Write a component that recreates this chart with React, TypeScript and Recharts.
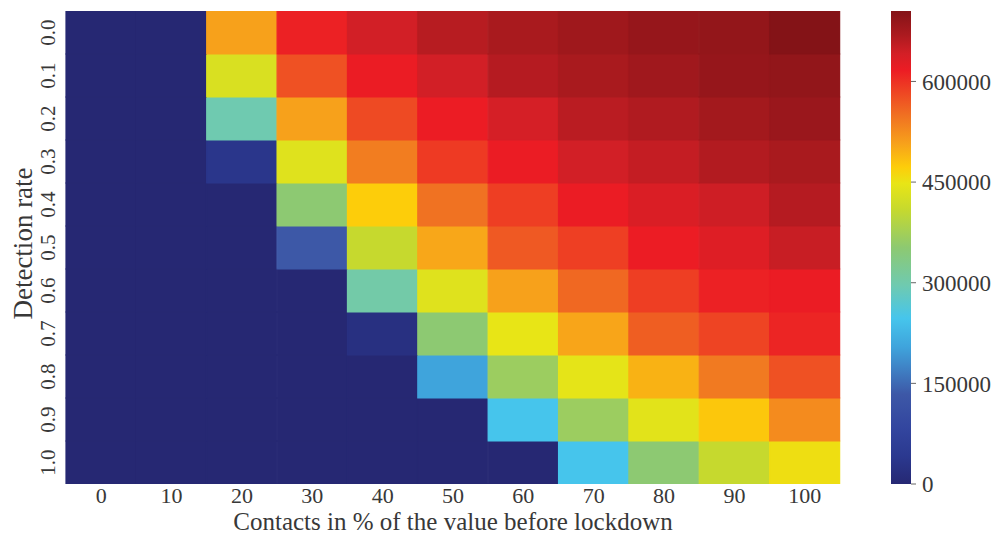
import React from 'react';
import { BarChart, Bar, XAxis, YAxis, Cell, Label } from 'recharts';

const contactLabels = ['0', '10', '20', '30', '40', '50', '60', '70', '80', '90', '100'];
const detectionLabels = ['0.0', '0.1', '0.2', '0.3', '0.4', '0.5', '0.6', '0.7', '0.8', '0.9', '1.0'];

// values per detection-rate row (top 0.0 -> bottom 1.0), columns = contacts 0..100
const row00 = [0, 0, 508000, 613000, 642000, 661000, 672000, 681000, 689000, 691000, 705000];
const row01 = [0, 0, 430000, 575000, 618000, 642000, 663000, 672000, 680000, 689000, 692000];
const row02 = [0, 0, 296000, 508000, 580000, 617000, 640000, 659000, 666000, 677000, 685000];
const row03 = [0, 0, 35000, 437000, 539000, 593000, 618000, 642000, 652000, 665000, 672000];
const row04 = [0, 0, 0, 352000, 472000, 548000, 590000, 618000, 635000, 645000, 663000];
const row05 = [0, 0, 0, 134000, 409000, 503000, 568000, 589000, 617000, 631000, 649000];
const row06 = [0, 0, 0, 0, 303000, 437000, 508000, 556000, 590000, 613000, 618000];
const row07 = [0, 0, 0, 0, 21000, 352000, 448000, 504000, 564000, 585000, 610000];
const row08 = [0, 0, 0, 0, 0, 204000, 367000, 444000, 494000, 541000, 575000];
const row09 = [0, 0, 0, 0, 0, 0, 247000, 367000, 441000, 477000, 527000];
const row10 = [0, 0, 0, 0, 0, 0, 0, 247000, 352000, 409000, 455000];
const rows = [row00, row01, row02, row03, row04, row05, row06, row07, row08, row09, row10];

const colorbarTicks = [0, 150000, 300000, 450000, 600000];
const vmax = 705000;

const xTitle = 'Contacts in % of the value before lockdown';
const yTitle = 'Detection rate';

// colour map (jet as it appears in the figure)
const stops: [number, string][] = [
  [0.0, '#262873'],
  [0.06, '#2b3990'],
  [0.12, '#33469f'],
  [0.19, '#3d58a7'],
  [0.25, '#3f86c8'],
  [0.29, '#3fa4dc'],
  [0.35, '#46c5ec'],
  [0.42, '#6fcab0'],
  [0.5, '#8dc971'],
  [0.58, '#c6d92e'],
  [0.635, '#e8e516'],
  [0.67, '#fdcd0a'],
  [0.72, '#f7a11b'],
  [0.78, '#f07022'],
  [0.83, '#ee4423'],
  [0.875, '#ec1c24'],
  [0.91, '#d31f26'],
  [0.95, '#ab1a1f'],
  [1.0, '#841317'],
];

const hexToRgb = (h: string) => [
  parseInt(h.slice(1, 3), 16),
  parseInt(h.slice(3, 5), 16),
  parseInt(h.slice(5, 7), 16),
];

const colorFor = (v: number) => {
  const t = Math.max(0, Math.min(1, v / vmax));
  for (let i = 1; i < stops.length; i++) {
    if (t <= stops[i][0]) {
      const [t0, c0] = stops[i - 1];
      const [t1, c1] = stops[i];
      const f = (t - t0) / (t1 - t0);
      const a = hexToRgb(c0);
      const b = hexToRgb(c1);
      const m = a.map((x, k) => Math.round(x + (b[k] - x) * f));
      return `rgb(${m[0]},${m[1]},${m[2]})`;
    }
  }
  return stops[stops.length - 1][1];
};

const FONT = 'Liberation Serif';
const TEXT = '#383838';

const data = contactLabels.map((c) => {
  const o: Record<string, any> = { contact: c };
  rows.forEach((_, i) => {
    o['r' + i] = 1;
  });
  return o;
});

const yTicks = detectionLabels.map((_, i) => detectionLabels.length - i - 0.5);

const YTick = (props: any) => {
  const { x, y, payload } = props;
  const idx = Math.round(detectionLabels.length - payload.value - 0.5);
  const bx = x - 3;
  return (
    <text
      x={bx}
      y={y}
      transform={`rotate(-90, ${bx}, ${y})`}
      textAnchor="middle"
      fontSize={21}
      fontFamily={FONT}
      fill={TEXT}
    >
      {detectionLabels[idx]}
    </text>
  );
};

const YTitle = (props: any) => {
  const vb = props.viewBox;
  const x = vb.x + 32;
  const y = vb.y + vb.height / 2 - 4;
  return (
    <text x={x} y={y} transform={`rotate(-90, ${x}, ${y})`} textAnchor="middle" fontSize={27} fontFamily={FONT} fill={TEXT}>
      {yTitle}
    </text>
  );
};

const XTitle = (props: any) => {
  const vb = props.viewBox;
  return (
    <text x={vb.x + vb.width / 2} y={vb.y + vb.height - 6} textAnchor="middle" fontSize={25} fontFamily={FONT} fill={TEXT}>
      {xTitle}
    </text>
  );
};

const rowOrder = rows.map((_, i) => rows.length - 1 - i); // bottom row first in the stack

export default function App() {
  return (
    <div style={{ position: 'absolute', left: 0, top: 0, width: 1007, height: 536, background: '#fff' }}>
      <div style={{ position: 'absolute', left: 0, top: 0 }}>
        <BarChart
          width={1007}
          height={536}
          data={data}
          margin={{ top: 11, right: 167, bottom: 0, left: 0 }}
          barCategoryGap={0}
          barGap={0}
        >
          <XAxis
            dataKey="contact"
            type="category"
            height={52}
            axisLine={false}
            tickLine={false}
            tickSize={2}
            tickMargin={1}
            interval={0}
            tick={{ fontSize: 22, fontFamily: FONT, fill: TEXT }}
          >
            <Label content={XTitle} />
          </XAxis>
          <YAxis
            type="number"
            domain={[0, rows.length]}
            ticks={yTicks}
            interval={0}
            width={66}
            axisLine={false}
            tickLine={false}
            tick={YTick}
            allowDataOverflow
          >
            <Label content={YTitle} />
          </YAxis>
          {rowOrder.map((i) => (
            <Bar key={i} dataKey={'r' + i} stackId="cells" isAnimationActive={false}>
              {rows[i].map((v, j) => (
                <Cell key={j} fill={colorFor(v)} stroke={colorFor(v)} strokeWidth={1.2} />
              ))}
            </Bar>
          ))}
        </BarChart>
      </div>
      <div style={{ position: 'absolute', left: 880, top: 0 }}>
        <BarChart
          width={127}
          height={536}
          data={[{ k: 'cb', v: vmax }]}
          margin={{ top: 11, right: 0, bottom: 52, left: 11 }}
          barCategoryGap={0}
          barGap={0}
        >
          <defs>
            <linearGradient id="cbGrad" x1="0" y1="1" x2="0" y2="0">
              {stops.map(([t, c]) => (
                <stop key={t} offset={t} stopColor={c} />
              ))}
            </linearGradient>
          </defs>
          <XAxis dataKey="k" hide />
          <YAxis
            orientation="right"
            type="number"
            width={96}
            domain={[0, vmax]}
            ticks={colorbarTicks}
            interval={0}
            allowDataOverflow
            axisLine={false}
            tickSize={5}
            tickMargin={6}
            tickLine={{ stroke: '#666' }}
            tick={{ fontSize: 23, fontFamily: FONT, fill: TEXT }}
          />
          <Bar dataKey="v" fill="url(#cbGrad)" isAnimationActive={false} />
        </BarChart>
      </div>
    </div>
  );
}
